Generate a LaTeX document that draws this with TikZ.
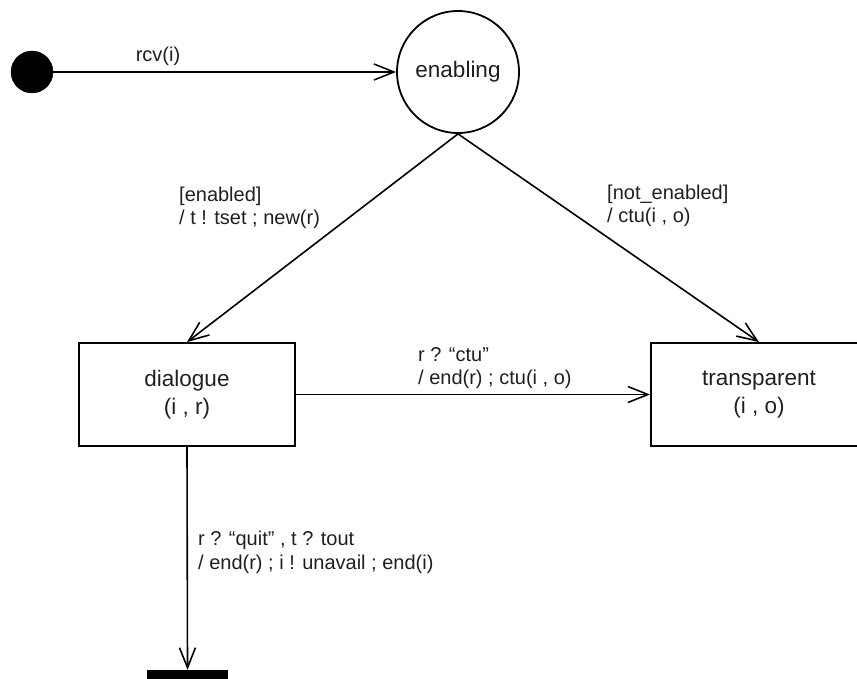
\documentclass[tikz,border=0pt]{standalone}
\usepackage{fontspec}
\setmainfont{Liberation Sans}
\usetikzlibrary{arrows.meta}

\begin{document}
\begin{tikzpicture}[x=1pt,y=-1pt,
  every node/.style={text=black!88},
  nodefont/.style={font=\fontsize{22.5}{28.5}\selectfont},
  lbl/.style={font=\fontsize{20}{23}\selectfont, anchor=base west, inner sep=0pt},
  initdot/.style={circle, fill=black, draw=black, minimum size=42pt, inner sep=0pt},
  statecircle/.style={circle, draw=black, line width=1.8pt, minimum size=122pt, inner sep=0pt, nodefont},
  statebox/.style={rectangle, draw=black, line width=1.8pt, minimum width=216pt, minimum height=103pt, align=center, nodefont},
  finalbar/.style={rectangle, fill=black, minimum width=81pt, minimum height=12pt, inner sep=0pt},
  flow/.style={draw=black, line width=1.6pt, -{Straight Barb[length=20pt, width=16pt, line width=1.6pt]}}
]
  \useasboundingbox (0,0) rectangle (857,679);
  \clip (0,0) rectangle (857,679);

  % states
  \node[initdot] (init) at (32,72) {};
  \node[statecircle] (enab) at (458,72) {enabling};
  \node[statebox] (dial) at (187,394.5) {dialogue\\(i , r)};
  \node[statebox] (trans) at (759,394.5) {transparent\\(i , o)};
  \node[finalbar] (fin) at (187.5,676) {};

  % transitions
  \draw[flow] (init) -- (enab);
  \draw[flow] (enab.south) -- (dial.north);
  \draw[flow] (enab.south) -- (trans.north);
  \draw[flow] (dial.east) -- (trans.west);
  \draw[flow] (dial.south) -- (fin.north);

  % transition labels
  \node[lbl, anchor=base] (l-rcv) at (158,62) {rcv(i)};
  \node[lbl] (l-en1) at (179,202) {[enabled]};
  \node[lbl] (l-en2) at (179,225) {/ t ! tset ; new(r)};
  \node[lbl] (l-ne1) at (607,200) {[not\_enabled]};
  \node[lbl] (l-ne2) at (607,223) {/ ctu(i , o)};
  \node[lbl] (l-ct1) at (418,361) {r ? “ctu”};
  \node[lbl] (l-ct2) at (418,384) {/ end(r) ; ctu(i , o)};
  \node[lbl] (l-qt1) at (198,545) {r ? “quit” , t ? tout};
  \node[lbl] (l-qt2) at (198,569) {/ end(r) ; i ! unavail ; end(i)};
\end{tikzpicture}
\end{document}
